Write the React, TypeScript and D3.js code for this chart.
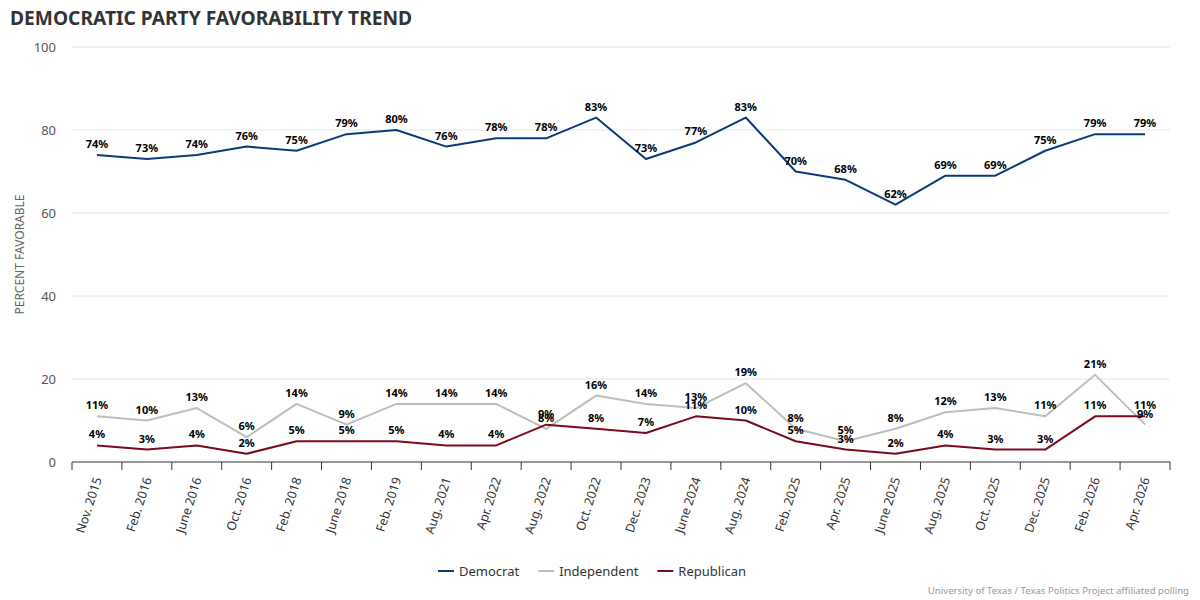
import React from "react";
import * as d3 from "d3";

const categories = [
  "Nov. 2015", "Feb. 2016", "June 2016", "Oct. 2016", "Feb. 2018", "June 2018",
  "Feb. 2019", "Aug. 2021", "Apr. 2022", "Aug. 2022", "Oct. 2022", "Dec. 2023",
  "June 2024", "Aug. 2024", "Feb. 2025", "Apr. 2025", "June 2025", "Aug. 2025",
  "Oct. 2025", "Dec. 2025", "Feb. 2026", "Apr. 2026",
];
const democrat = [74, 73, 74, 76, 75, 79, 80, 76, 78, 78, 83, 73, 77, 83, 70, 68, 62, 69, 69, 75, 79, 79];
const independent = [11, 10, 13, 6, 14, 9, 14, 14, 14, 8, 16, 14, 13, 19, 8, 5, 8, 12, 13, 11, 21, 9];
const republican = [4, 3, 4, 2, 5, 5, 5, 4, 4, 9, 8, 7, 11, 10, 5, 3, 2, 4, 3, 3, 11, 11];
const yTicks = [0, 20, 40, 60, 80, 100];

const seriesList = [
  { name: "Democrat", values: democrat, color: "#0b3a78" },
  { name: "Independent", values: independent, color: "#bdbdbd" },
  { name: "Republican", values: republican, color: "#7a0a1e" },
];

const W = 1200;
const H = 600;
const M = { left: 72, right: 1170, top: 47, bottom: 462 };
const FONT = "'Noto Sans', 'Open Sans', sans-serif";

function measure(text: string, size: number): number {
  if (typeof document === "undefined") return text.length * size * 0.55;
  const c = document.createElement("canvas").getContext("2d");
  if (!c) return text.length * size * 0.55;
  c.font = `${size}px 'Noto Sans', 'Open Sans', sans-serif`;
  return c.measureText(text).width;
}

export default function App() {
  const x = d3.scaleBand<string>().domain(categories).range([M.left, M.right]);
  const y = d3.scaleLinear().domain([0, 100]).range([M.bottom, M.top]);
  const cx = (c: string) => (x(c) as number) + x.bandwidth() / 2;
  const line = d3
    .line<number>()
    .x((_, i) => cx(categories[i]))
    .y((v) => y(v));

  // legend layout: sequential items
  const legendPos: number[] = [];
  let lx = 438;
  seriesList.forEach((s) => {
    legendPos.push(lx);
    lx += 16 + 5 + measure(s.name, 13) + 19;
  });

  return (
    <svg
      width={W}
      height={H}
      style={{ position: "absolute", left: 0, top: 0, background: "#fff" }}
      fontFamily={FONT}
    >
      <text x={10} y={25} fontSize={19.2} fontWeight={700} fill="#333">
        DEMOCRATIC PARTY FAVORABILITY TREND
      </text>

      {/* grid + y ticks */}
      {yTicks.map((t) => (
        <g key={t}>
          {t > 0 && (
            <line x1={M.left} x2={M.right} y1={y(t)} y2={y(t)} stroke="#e6e6e6" strokeWidth={1} />
          )}
          <text x={56} y={y(t)} dy="0.35em" textAnchor="end" fontSize={13} fill="#555">
            {t}
          </text>
        </g>
      ))}
      <text
        transform={`translate(24,${(M.top + M.bottom) / 2}) rotate(-90)`}
        textAnchor="middle"
        fontSize={12}
        fill="#666"
      >
        PERCENT FAVORABLE
      </text>

      {/* x axis */}
      <line x1={M.left} x2={M.right} y1={M.bottom} y2={M.bottom} stroke="#333" strokeWidth={1} />
      {categories.map((c) => (
        <line
          key={"t" + c}
          x1={x(c) as number}
          x2={x(c) as number}
          y1={M.bottom}
          y2={M.bottom + 8}
          stroke="#333"
        />
      ))}
      <line x1={M.right} x2={M.right} y1={M.bottom} y2={M.bottom + 8} stroke="#333" />
      {categories.map((c) => (
        <text
          key={"l" + c}
          transform={`translate(${cx(c) + 5},${M.bottom + 17}) rotate(-72)`}
          textAnchor="end"
          fontSize={12.5}
          fill="#333"
        >
          {c}
        </text>
      ))}

      {/* lines */}
      {seriesList.map((s) => (
        <path
          key={s.name}
          d={line(s.values) || ""}
          fill="none"
          stroke={s.color}
          strokeWidth={2}
          strokeLinejoin="round"
        />
      ))}

      {/* labels */}
      {seriesList.map((s) =>
        s.values.map((v, i) => (
          <text
            key={s.name + i}
            x={cx(categories[i])}
            y={y(v) - 7}
            textAnchor="middle"
            fontSize={11}
            fontWeight={700}
            fill="#000"
          >
            {v}%
          </text>
        ))
      )}

      {/* legend */}
      {seriesList.map((s, i) => (
        <g key={"lg" + s.name}>
          <line
            x1={legendPos[i]}
            x2={legendPos[i] + 16}
            y1={571}
            y2={571}
            stroke={s.color}
            strokeWidth={2}
          />
          <text x={legendPos[i] + 21} y={571} dy="0.35em" fontSize={13} fill="#333">
            {s.name}
          </text>
        </g>
      ))}

      <text x={1189} y={594} textAnchor="end" fontSize={9.6} fill="#999">
        University of Texas / Texas Politics Project affiliated polling
      </text>
    </svg>
  );
}
